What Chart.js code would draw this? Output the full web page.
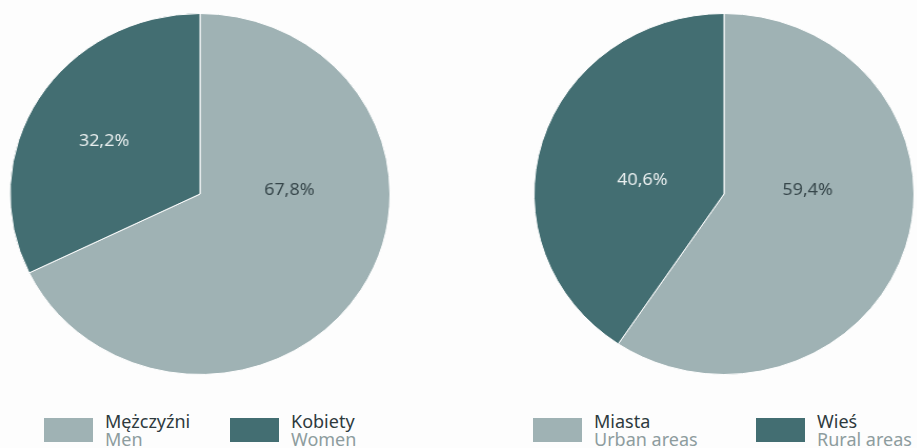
<!DOCTYPE html>
<html>
<head>
<meta charset="utf-8">
<script src="https://cdn.jsdelivr.net/npm/chart.js@4"></script>
<style>
  html, body { margin: 0; padding: 0; background: #fdfdfd; }
  body { width: 917px; height: 448px; position: relative; overflow: hidden; font-family: "Noto Sans", sans-serif; }
  .pie { position: absolute; top: 12.5px; width: 362px; height: 362px; transform: scaleX(1.0526); transform-origin: center center; }
  .legend-item { position: absolute; top: 418px; }
  .swatch { position: absolute; top: 0; left: 0; width: 49px; height: 24px; }
  .legend-text { position: absolute; top: -6px; left: 61px; white-space: nowrap; font-size: 18px; line-height: 18px; }
  .legend-text .pl { color: #2e3a3d; }
  .legend-text .en { color: #8d9c9e; }
</style>
</head>
<body>
<div class="pie" style="left: 19px;"><canvas id="genderChart"></canvas></div>
<div class="pie" style="left: 543px;"><canvas id="placeChart"></canvas></div>
<div id="genderLegend"></div>
<div id="placeLegend"></div>
<script>
// data
var genderLabels = ['Mężczyźni', 'Kobiety'];
var genderLabelsEn = ['Men', 'Women'];
var genderValues = [67.8, 32.2];

var placeLabels = ['Miasta', 'Wieś'];
var placeLabelsEn = ['Urban areas', 'Rural areas'];
var placeValues = [59.4, 40.6];

var sliceColors = ['#9fb2b4', '#436e72'];
var labelColors = ['#37474b', '#e9efef'];

// draws the percentage inside each slice, placed relative to the pie centre
var sliceLabels = {
    id: 'sliceLabels',
    afterDatasetsDraw: function (chart, args, opts) {
        var ctx = chart.ctx;
        var arcs = chart.getDatasetMeta(0).data;
        var values = chart.data.datasets[0].data;
        ctx.save();
        ctx.font = '17px "Noto Sans", sans-serif';
        ctx.textAlign = 'center';
        ctx.textBaseline = 'middle';
        arcs.forEach(function (arc, i) {
            var r = arc.outerRadius;
            ctx.fillStyle = labelColors[i];
            ctx.fillText(values[i].toFixed(1).replace('.', ',') + '%',
                arc.x + opts.spots[i][0] * r, arc.y + opts.spots[i][1] * r);
        });
        ctx.restore();
    }
};

function makePie(id, labels, values, spots) {
    var ctx = document.getElementById(id).getContext('2d');
    return new Chart(ctx, {
        type: 'pie',
        data: {
            labels: labels,
            datasets: [{
                data: values,
                backgroundColor: sliceColors,
                borderColor: '#ffffff',
                borderWidth: 1
            }]
        },
        options: {
            responsive: true,
            maintainAspectRatio: false,
            animation: false,
            layout: { padding: 0 },
            plugins: {
                legend: { display: false },
                tooltip: { enabled: false },
                sliceLabels: { spots: spots }
            }
        },
        plugins: [sliceLabels]
    });
}

function makeLegend(id, labels, labelsEn, lefts) {
    var box = document.getElementById(id);
    labels.forEach(function (name, i) {
        var item = document.createElement('div');
        item.className = 'legend-item';
        item.style.left = lefts[i] + 'px';
        item.innerHTML = '<div class="swatch" style="background:' + sliceColors[i] + '"></div>' +
            '<div class="legend-text"><div class="pl">' + name + '</div><div class="en">' + labelsEn[i] + '</div></div>';
        box.appendChild(item);
    });
}

makePie('genderChart', genderLabels, genderValues, [[0.47, -0.02], [-0.505, -0.29]]);
makePie('placeChart', placeLabels, placeValues, [[0.44, -0.02], [-0.43, -0.075]]);

makeLegend('genderLegend', genderLabels, genderLabelsEn, [44, 230]);
makeLegend('placeLegend', placeLabels, placeLabelsEn, [533, 756]);
</script>
</body>
</html>
